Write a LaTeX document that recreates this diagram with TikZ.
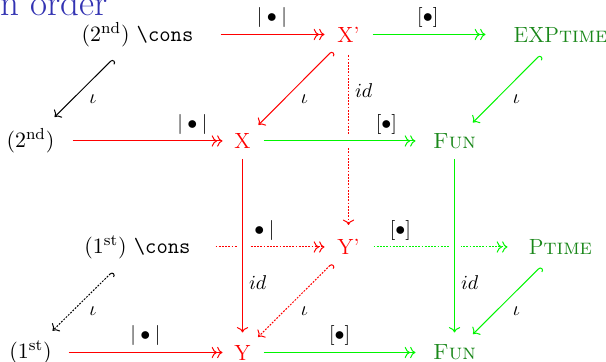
\documentclass[tikz,border=0pt]{standalone}
\usetikzlibrary{arrows.meta}
\definecolor{lred}{RGB}{255,0,0}
\definecolor{lgreen}{RGB}{0,245,0}
\definecolor{tgreen}{RGB}{25,135,25}
\definecolor{titleblue}{RGB}{51,51,178}
\tikzset{
  obj/.style={font=\fontsize{11}{13}\selectfont, inner sep=0pt},
  lab/.style={font=\fontsize{10}{12}\selectfont},
  hlab/.style={lab, above, inner sep=3pt},
  vlab/.style={lab, right, inner sep=3pt},
  dlab/.style={lab, anchor=north west, inner sep=3pt, pos=0.51},
  epi/.style={-{To[]To[]}},
  into/.style={-To},
  mono/.style={{Hooks[right]}-To},
  dots/.style={dash pattern=on 0.9pt off 0.7pt},
  crossing/.style={preaction={draw=white, -, solid, line width=6pt}},
}
\begin{document}
\begin{tikzpicture}[x=0.5pt, y=-0.5pt, line width=0.5pt]
\useasboundingbox (0,0) rectangle (606,362);

% slide title, partly outside the frame
\node[anchor=base east, text=titleblue, font=\fontsize{18.5}{22}\selectfont, inner sep=0pt] (title) at (108,16) {n order};

% back face
\node[obj] (c2) at (137.5,34.5) {$(2^{\mathrm{nd}})$ \texttt{\textbackslash cons}};
\node[obj, text=lred] (xp) at (348.5,34.5) {X'};
\node[obj, text=tgreen] (exp) at (560.5,34.5) {EXP\textsc{time}};
\node[obj] (c1) at (137.5,247) {$(1^{\mathrm{st}})$ \texttt{\textbackslash cons}};
\node[obj, text=lred] (yp) at (348.5,247) {Y'};
\node[obj, text=tgreen] (pt) at (560.5,247) {P\textsc{time}};

% front face
\node[obj] (d2) at (30.5,141) {$(2^{\mathrm{nd}})$};
\node[obj, text=lred] (x) at (242.5,141) {X};
\node[obj, text=tgreen] (f2) at (454.5,141) {\textsc{Fun}};
\node[obj] (d1) at (30.5,352.5) {$(1^{\mathrm{st}})$};
\node[obj, text=lred] (y) at (242.5,352.5) {Y};
\node[obj, text=tgreen] (f1) at (454.5,352.5) {\textsc{Fun}};

% top rows
\draw[draw=lred, epi, shorten <=41.5pt, shorten >=12pt] (c2.center) -- node[hlab, pos=0.637] {$|\bullet|$} (xp.center);
\draw[draw=lgreen, epi, shorten <=12pt, shorten >=37.5pt] (xp.center) -- node[hlab, pos=0.374] {$[\bullet]$} (exp.center);

% diagonals of the upper square
\draw[draw=black, mono, shorten <=17.5pt, shorten >=17pt] (c2.center) -- node[dlab] {$\iota$} (d2.center);
\draw[draw=lred, mono, shorten <=11.7pt, shorten >=11.3pt] (xp.center) -- node[dlab] {$\iota$} (x.center);
\draw[draw=lgreen, mono, shorten <=14.5pt, shorten >=13pt] (exp.center) -- node[dlab] {$\iota$} (f2.center);

% back vertical
\draw[draw=lred, dots, into, shorten <=10.5pt, shorten >=11pt] (xp.center) -- node[vlab, pos=0.263] {$id$} (yp.center);

% second row
\draw[draw=lred, epi, shorten <=21pt, shorten >=10pt] (d2.center) -- node[hlab, pos=0.764] {$|\bullet|$} (x.center);
\draw[draw=lgreen, epi, crossing, shorten <=10.5pt, shorten >=19.5pt] (x.center) -- node[hlab, pos=0.679] {$[\bullet]$} (f2.center);

% third row
\draw[draw=lred, dots, epi, shorten <=39pt, shorten >=12pt] (c1.center) -- node[hlab, pos=0.578] {$|\bullet|$} (yp.center);
\draw[draw=lgreen, dots, epi, shorten <=12.5pt, shorten >=26.5pt] (yp.center) -- node[hlab, pos=0.245] {$[\bullet]$} (pt.center);

% front verticals
\draw[draw=lred, into, crossing, shorten <=9pt, shorten >=10pt] (x.center) -- node[vlab, pos=0.668] {$id$} (y.center);
\draw[draw=lgreen, into, crossing, shorten <=9pt, shorten >=10pt] (f2.center) -- node[vlab, pos=0.668] {$id$} (f1.center);

% diagonals of the lower square
\draw[draw=black, dots, mono, shorten <=17.7pt, shorten >=15.5pt] (c1.center) -- node[dlab] {$\iota$} (d1.center);
\draw[draw=lred, dots, mono, shorten <=11.7pt, shorten >=11pt] (yp.center) -- node[dlab] {$\iota$} (y.center);
\draw[draw=lgreen, mono, shorten <=14pt, shorten >=13pt] (pt.center) -- node[dlab] {$\iota$} (f1.center);

% bottom row
\draw[draw=lred, epi, shorten <=19pt, shorten >=10pt] (d1.center) -- node[hlab, pos=0.542] {$|\bullet|$} (y.center);
\draw[draw=lgreen, epi, shorten <=10.5pt, shorten >=19.5pt] (y.center) -- node[hlab, pos=0.458] {$[\bullet]$} (f1.center);
\end{tikzpicture}
\end{document}
